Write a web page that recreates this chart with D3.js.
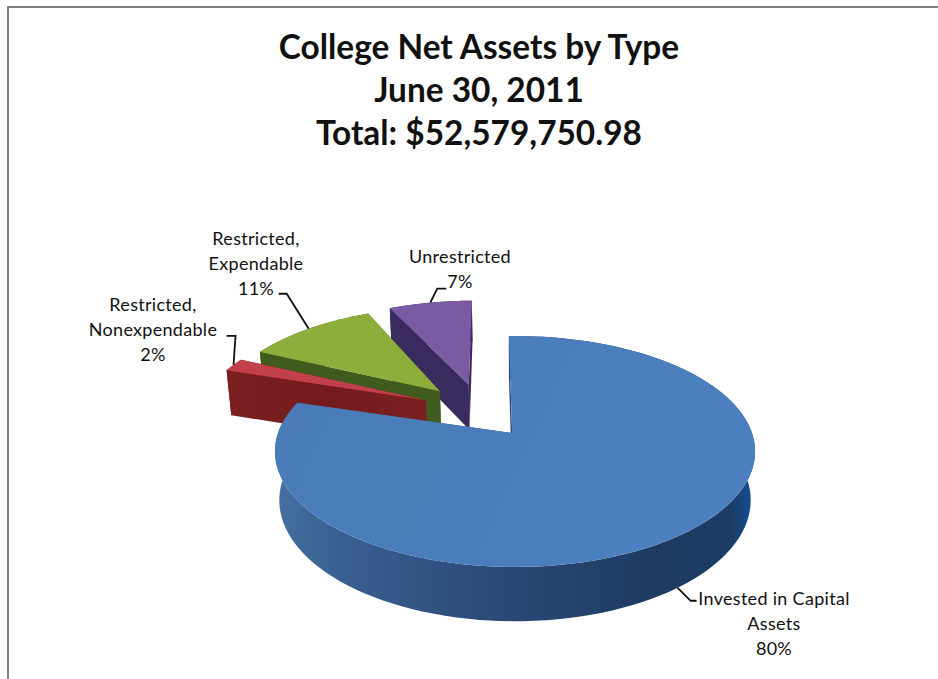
<!DOCTYPE html>
<html>
<head>
<meta charset="utf-8">
<script src="https://cdn.jsdelivr.net/npm/d3@7/dist/d3.min.js"></script>
<style>
  html, body { margin: 0; padding: 0; background: #fff; }
  svg { display: block; }
  text { font-family: Lato, "Noto Sans", sans-serif; fill: #111; }
</style>
</head>
<body>
<svg id="chart" width="938" height="679"></svg>
<script>
// Net asset categories and their share of the total, in percent
const categories = ["Invested in Capital Assets", "Restricted, Nonexpendable", "Restricted, Expendable", "Unrestricted"];
const shares = [80, 2, 11, 7];
const titleLines = ["College Net Assets by Type", "June 30, 2011", "Total: $52,579,750.98"];
const labelLines = [
  ["Invested in Capital", "Assets", "80%"],
  ["Restricted,", "Nonexpendable", "2%"],
  ["Restricted,", "Expendable", "11%"],
  ["Unrestricted", "7%"]
];
const topColors = ["url(#blueTop)", "#c2404c", "#8dad3c", "#7a5ba3"];
const wallColors = ["url(#blueWall)", "url(#redWall)", "#3f5c1e", "#3a2b5e"];
const rimRadius = [1, 0.99, 0.975, 0.985];
const sliceTurn = [-0.03, 0, 0.006, -0.015];
const apexNudge = [-0.012, 0, 0, 0];
const labelCenters = [[774, 605], [153, 311], [256, 245], [460, 263]];
const leaderElbows = [
  [[13, 13], [19, 13]],
  [[2, -29], [-7, -29]],
  [[-22, -35], [-30, -35]],
  [[7, -14], [16, -14]]
];

const svg = d3.select("#chart");
const W = 938, H = 679;

// Projection of the tilted disc: u runs left to right, v back to front, z is height downward
const cx = 515, cy = 433, R = 237, A = 112.5, k = 0.16, h = 0.00037, depth = 49;
const explode = 0.26;
function project(u, v, z = 0) {
  const s = 1 / (1 - k * v + h * z);
  return [cx + R * u * s, cy + (A * v + z) * s];
}

// Slice angles come from the pie layout, clockwise from the top
const pie = d3.pie().sort(null).startAngle(0).endAngle(2 * Math.PI);
const arcs = pie(shares);
const dir = a => [Math.sin(a), -Math.cos(a)];
const mid = d => (d.startAngle + d.endAngle) / 2;

// Every slice is pulled out along its bisector; the first slice's apex sits on the origin
const d0 = dir(mid(arcs[0]));
const centre = [-explode * d0[0], -explode * d0[1]];
const apexes = arcs.map(d => {
  const m = dir(mid(d));
  return [centre[0] + explode * m[0], centre[1] + explode * m[1]];
});

const line = d3.line();
const rimPoint = (i, a, z = 0) => {
  const m = dir(a + sliceTurn[i]);
  return project(apexes[i][0] + rimRadius[i] * m[0], apexes[i][1] + rimRadius[i] * m[1], z);
};
const apexPoint = (i, z = 0) => project(apexes[i][0] + apexNudge[i], apexes[i][1], z);
const rimAngles = d => d3.range(0, 121).map(j => d.startAngle + (d.endAngle - d.startAngle) * j / 120);

// Shading of the large slice and of the small red slice
const defs = svg.append("defs");
function gradient(id, x1, x2, y1, y2, stops) {
  const g = defs.append("linearGradient").attr("id", id)
    .attr("gradientUnits", "userSpaceOnUse")
    .attr("x1", x1).attr("x2", x2).attr("y1", y1).attr("y2", y2);
  stops.forEach(([o, c]) => g.append("stop").attr("offset", o).attr("stop-color", c));
}
gradient("blueWall", 275, 755, 0, 0,
  [[0, "#44709f"], [0.12, "#3a6192"], [0.45, "#2b4a78"], [0.8, "#1e3a60"], [0.95, "#1b3c66"], [1, "#12509a"]]);
gradient("blueTop", 275, 755, 340, 560,
  [[0, "#4a7bb8"], [0.5, "#4a7dbb"], [1, "#4d80c0"]]);
gradient("redWall", 226, 430, 0, 0,
  [[0, "#7a2020"], [0.5, "#741a1c"], [1, "#7c1f22"]]);

// Frame around the chart
svg.append("path")
  .attr("d", line([[8, H], [8, 7], [W, 7]]))
  .attr("fill", "none").attr("stroke", "#808080").attr("stroke-width", 2);

// Title
svg.append("g").selectAll("text").data(titleLines).join("text")
  .attr("x", 479).attr("y", (d, i) => 59 + i * 43)
  .attr("text-anchor", "middle")
  .style("font-size", "33.4px").style("font-weight", 700)
  .text(d => d);

// Slices are painted back to front, each with its walls below its top face
const paintOrder = [3, 2, 1, 0];
const pieLayer = svg.append("g");
paintOrder.forEach(i => {
  const d = arcs[i];
  const a = rimAngles(d);
  const g = pieLayer.append("g").attr("class", "slice");
  const apexTop = apexPoint(i);
  const apexLow = apexPoint(i, depth);

  const walls = [
    [apexTop, rimPoint(i, d.startAngle), rimPoint(i, d.startAngle, depth), apexLow],
    [apexTop, rimPoint(i, d.endAngle), rimPoint(i, d.endAngle, depth), apexLow],
    a.map(t => rimPoint(i, t)).concat(a.slice().reverse().map(t => rimPoint(i, t, depth)))
  ];
  g.selectAll("path.wall").data(walls).join("path")
    .attr("class", "wall")
    .attr("d", p => line(p) + "Z")
    .attr("fill", wallColors[i]);

  g.append("path")
    .attr("d", line([apexTop].concat(a.map(t => rimPoint(i, t)))) + "Z")
    .attr("fill", topColors[i]);
});

// Leader lines run from the middle of each slice's rim to its label
const leaders = svg.append("g");
arcs.forEach((d, i) => {
  const start = rimPoint(i, mid(d), i === 0 ? depth : 0);
  const pts = [start].concat(leaderElbows[i].map(e => [start[0] + e[0], start[1] + e[1]]));
  leaders.append("path").attr("d", line(pts))
    .attr("fill", "none").attr("stroke", "#111").attr("stroke-width", 1.8);
});

// Data labels
labelLines.forEach((lines, i) => {
  svg.append("g").selectAll("text").data(lines).join("text")
    .attr("x", labelCenters[i][0])
    .attr("y", (d, j) => labelCenters[i][1] + j * 25)
    .attr("text-anchor", "middle")
    .style("font-size", "18px").style("letter-spacing", "0.3px")
    .text(d => d);
});
</script>
</body>
</html>
